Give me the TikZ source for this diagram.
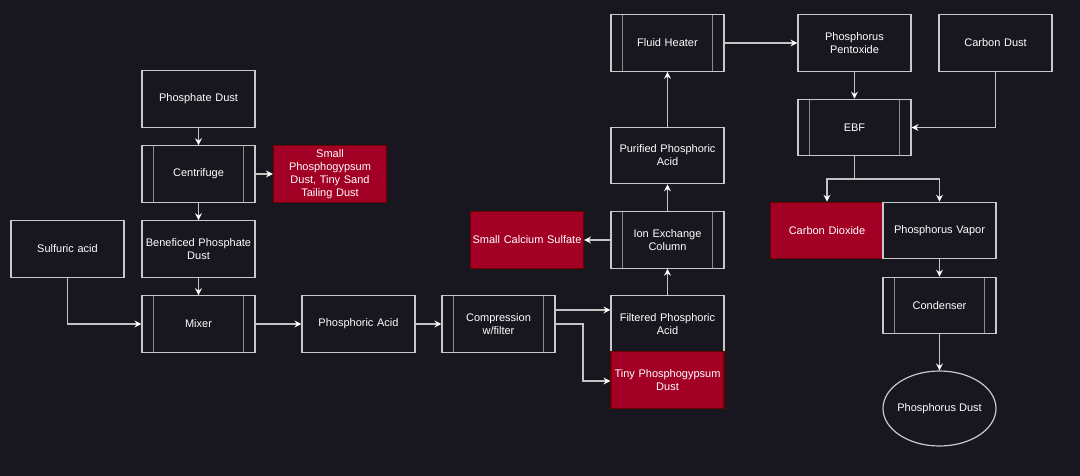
\documentclass[tikz,border=0pt]{standalone}
\usepackage{fontspec}
\setmainfont{Liberation Sans}
\usetikzlibrary{arrows.meta,shapes.geometric,calc}
\definecolor{bg}{HTML}{18161E}
\definecolor{edge}{HTML}{C8C8C8}
\definecolor{inner}{HTML}{8A8A8A}
\definecolor{crim}{HTML}{A20025}
\definecolor{crimline}{HTML}{6F0000}
\definecolor{wire}{HTML}{C4C4C4}
\tikzset{
  x=1pt, y=-1pt,
  every node/.style={font=\fontsize{11}{13}\selectfont, text=white, align=center, inner sep=1pt},
  plainbox/.style={draw=edge, fill=bg, line width=1.2pt, minimum width=113pt, minimum height=56.5pt, text width=111pt},
  redbox/.style={draw=crimline, fill=crim, line width=1.2pt, minimum width=113pt, minimum height=56.5pt, text width=111pt},
  procbox/.style={plainbox, text width=85pt, path picture={
      \draw[inner, line width=1.5pt] ([xshift=11.5pt]path picture bounding box.north west) -- ([xshift=11.5pt]path picture bounding box.south west);
      \draw[inner, line width=1.5pt] ([xshift=-11.5pt]path picture bounding box.north east) -- ([xshift=-11.5pt]path picture bounding box.south east);}},
  ovalbox/.style={draw=edge, fill=bg, line width=1.2pt, ellipse, minimum width=113pt, minimum height=75pt, inner sep=0pt},
  flow/.style={draw=wire, line width=1.2pt, -{Stealth[length=7pt,width=7pt,inset=2.5pt,fill=white,color=white]}},
}
\begin{document}
\begin{tikzpicture}
\fill[bg] (0,0) rectangle (1080,476);
\useasboundingbox (0,0) rectangle (1080,476);

% left column
\node[plainbox] (pd) at (198.5,99) {Phosphate Dust};
\node[procbox] (cen) at (198.5,174) {Centrifuge};
\node[redbox] (spg) at (330,174) {Small\\Phosphogypsum\\Dust, Tiny Sand\\Tailing Dust};
\node[plainbox] (ben) at (198.5,249) {Beneficed Phosphate\\Dust};
\node[plainbox] (sul) at (67.5,249) {Sulfuric acid};
\node[procbox] (mix) at (198.5,324) {Mixer};
\node[plainbox] (pa) at (358.5,324) {Phosphoric Acid};
\node[procbox] (comp) at (498.5,324) {Compression\\w/filter};
\node[plainbox] (fpa) at (667.5,324) {Filtered Phosphoric\\Acid};
\node[redbox] (tpg) at (667.5,380) {Tiny Phosphogypsum\\Dust};
\node[procbox] (ion) at (667.5,240) {Ion Exchange\\Column};
\node[redbox] (scs) at (527,240) {Small Calcium Sulfate};
\node[plainbox] (ppa) at (667.5,155.5) {Purified Phosphoric\\Acid};
\node[procbox] (fh) at (667.5,43) {Fluid Heater};
\node[plainbox] (pp) at (854.5,43) {Phosphorus\\Pentoxide};
\node[plainbox] (cd) at (995.5,43) {Carbon Dust};
\node[procbox] (ebf) at (854.5,127.5) {EBF};
\node[redbox] (co2) at (827,230.5) {Carbon Dioxide};
\node[plainbox] (pv) at (939.5,230.5) {Phosphorus Vapor};
\node[procbox] (cond) at (939.5,305.5) {Condenser};
\node[ovalbox] (pdust) at (939.5,408.5) {\makebox[0pt]{Phosphorus Dust}};

% connectors
\draw[flow] (pd) -- (cen);
\draw[flow] (cen) -- (spg);
\draw[flow] (cen) -- (ben);
\draw[flow] (ben) -- (mix);
\draw[flow] (sul.south) |- (mix.west);
\draw[flow] (mix) -- (pa);
\draw[flow] (pa) -- (comp);
\draw[flow] ([yshift=14pt]comp.east) -- ([yshift=14pt]fpa.west);
\coordinate (bend) at (583,324);
\draw[flow] (comp.east) -- (bend) |- ([yshift=-1pt]tpg.west);
\draw[flow] (fpa) -- (ion);
\draw[flow] (ion) -- (scs);
\draw[flow] (ion) -- (ppa);
\draw[flow] (ppa) -- (fh);
\draw[flow] (fh) -- (pp);
\draw[flow] (pp) -- (ebf);
\draw[flow] (cd.south) |- (ebf.east);
\coordinate (split) at (854.5,179);
\draw[draw=wire, line width=1.2pt] (ebf.south) -- (split);
\draw[flow] (split) -| (co2.north);
\draw[flow] (split) -| (pv.north);
\draw[flow] (pv) -- (cond);
\draw[flow] (cond) -- (pdust);
\end{tikzpicture}
\end{document}
